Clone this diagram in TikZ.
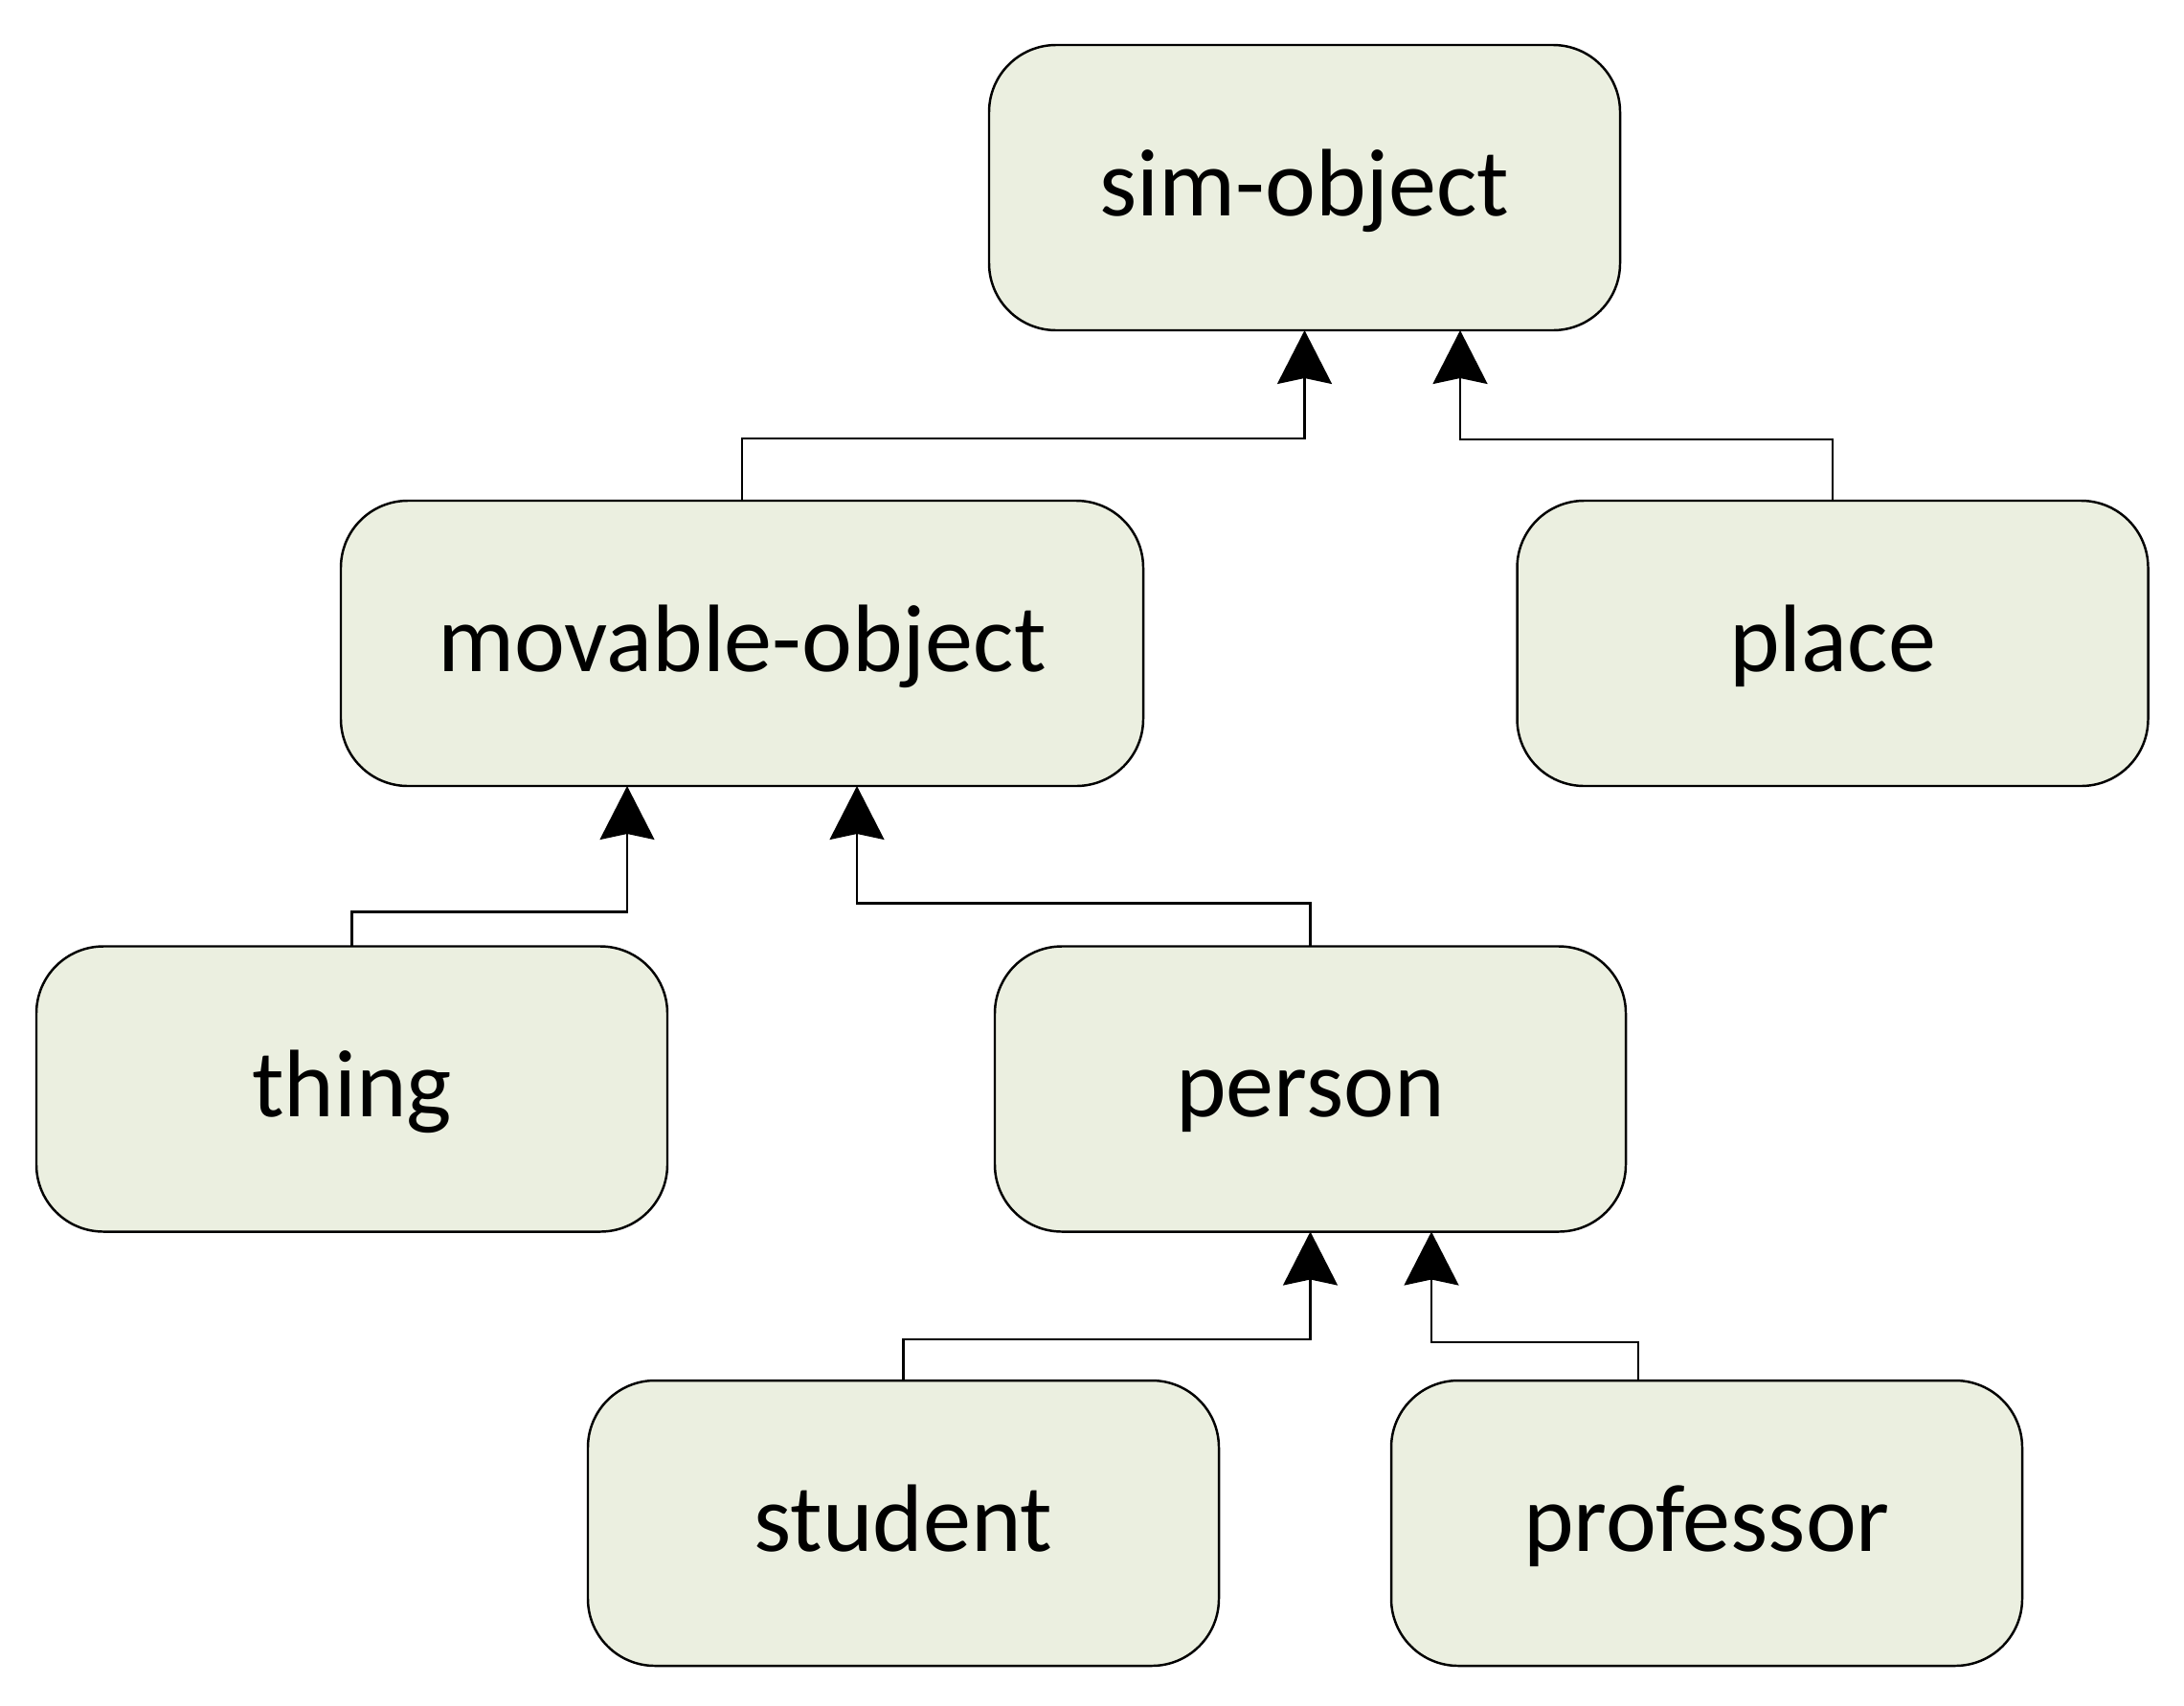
\documentclass[tikz,border=0pt]{standalone}
\usepackage{fontspec}
\setmainfont{Carlito}
\usepackage{xcolor}
\usepackage{tikz}
\usetikzlibrary{arrows.meta}
\definecolor{boxfill}{RGB}{235,239,224}
\definecolor{edgeblack}{RGB}{0,0,0}

\begin{document}
\begin{tikzpicture}[
    classbox/.style={draw=edgeblack,fill=boxfill,line width=0.7pt,rounded corners=0.7cm,
      minimum width=6.59cm,minimum height=2.98cm,inner sep=0pt,outer sep=0pt,
      font=\fontsize{28.5}{34}\selectfont,text height=0.8cm,text depth=0.22cm},
    isa/.style={-{Stealth[length=0.56cm,width=0.57cm,inset=0.06cm]},line width=0.6pt,edgeblack}]
    \useasboundingbox (0,0) rectangle (22.81,-17.81);
    \node[classbox] (sim) at (13.625,-1.96) {sim-object};
    \node[classbox,minimum width=8.38cm] (movobj) at (7.75,-6.72) {movable-object};
    \node[classbox] (place) at (19.14,-6.72) {place};
    \node[classbox] (thing) at (3.675,-11.375) {thing};
    \node[classbox] (person) at (13.685,-11.375) {person};
    \node[classbox] (student) at (9.435,-15.91) {student};
    \node[classbox] (prof) at (17.825,-15.91) {professor};
    \draw[isa] (movobj.north) -- ++(0,0.65) -| (sim.south);
    \draw[isa] (place.north) -- ++(0,0.64) -| ([xshift=1.625cm]sim.south);
    \draw[isa] (thing.north) -- ++(0,0.36) -| ([xshift=-1.2cm]movobj.south);
    \draw[isa] (person.north) -- ++(0,0.45) -| ([xshift=1.2cm]movobj.south);
    \draw[isa] (student.north) -- ++(0,0.43) -| (person.south);
    \draw[isa] ([xshift=-0.715cm]prof.north) -- ++(0,0.40) -| ([xshift=1.265cm]person.south);
  \end{tikzpicture}
\end{document}
